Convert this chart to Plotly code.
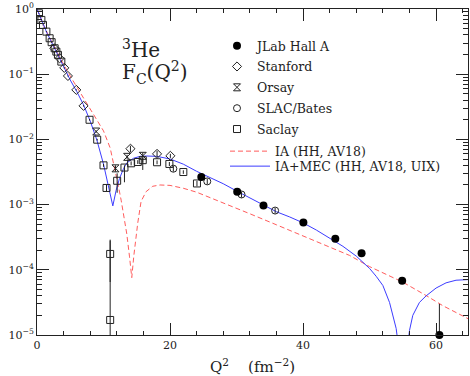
import plotly.graph_objects as go

# ---------------- data ----------------
# theory curves: Q^2 (fm^-2) and F_C
ia_q = [0, 1, 2, 3, 4, 5, 6, 7, 8, 9, 10, 11, 11.65, 12.2, 12.65, 13.1, 13.5, 13.9,
        14.25, 14.55, 14.85, 15.15, 15.65, 16.4, 17.4, 18.5, 20, 22, 24, 28, 32, 36,
        40, 44, 47, 50, 55, 58.6, 61, 64.8]
ia_F = [1.0, 0.562, 0.347, 0.219, 0.141, 0.0933, 0.0631, 0.0427, 0.0282, 0.0200,
        0.0135, 0.00741, 0.00380, 0.00200, 0.00117, 6.31e-4, 3.55e-4, 1.62e-4,
        7.59e-5, 1.62e-4, 3.16e-4, 5.25e-4, 1.12e-3, 1.58e-3, 1.91e-3, 2.0e-3,
        1.97e-3, 1.78e-3, 1.55e-3, 1.07e-3, 7.24e-4, 4.90e-4, 3.31e-4, 2.19e-4,
        1.66e-4, 1.12e-4, 6.46e-5, 3.98e-5, 2.82e-5, 1.78e-5]

mec_q = [0, 0.5, 1, 1.5, 2, 3, 4, 5, 6, 7, 8, 9, 10, 10.6, 11.0, 11.4, 11.9, 12.4,
         13.0, 13.5, 14.5, 15.5, 16.5, 18, 20, 22, 24, 26, 28, 30, 32, 34, 36, 38,
         40, 42, 44, 46, 48, 50, 51, 52, 53, 54, 54.5, 55.0, 55.5, 56.0, 56.5, 57.5,
         58.5, 60, 61.5, 63, 64.8]
mec_F = [1.0, 0.741, 0.550, 0.427, 0.339, 0.209, 0.129, 0.0813, 0.0537, 0.0339,
         0.0191, 0.00977, 0.00417, 0.00229, 0.00148, 0.000955, 0.00166, 0.00251,
         0.00355, 0.00437, 0.00513, 0.00550, 0.00556, 0.00550, 0.00501, 0.00417,
         0.00324, 0.00263, 0.00209, 0.00162, 0.00126, 0.000977, 0.000776, 0.000646,
         0.000525, 0.000407, 0.000309, 0.000229, 0.000162, 0.000105, 7.94e-5,
         5.75e-5, 3.16e-5, 1.26e-5, 5.0e-6, 1.0e-7, 4.0e-6, 1.17e-5, 2.0e-5,
         3.16e-5, 3.98e-5, 5.25e-5, 6.31e-5, 6.92e-5, 7.08e-5]

# experimental data
jlab_q = [24.7, 30.1, 34.05, 40.05, 44.85, 48.8, 54.9, 60.5]
jlab_F = [2.64e-3, 1.58e-3, 9.7e-4, 5.3e-4, 3.0e-4, 1.79e-4, 6.8e-5, 1.0e-5]
jlab_ep = [1e-4, 6e-5, 4e-5, 2e-5, 1.2e-5, 8e-6, 5e-6, 2.0e-5]
jlab_em = [1e-4, 6e-5, 4e-5, 2e-5, 1.2e-5, 8e-6, 5e-6, 0]

stan_q = [2.6, 3.4, 4.1, 4.65, 5.91, 7.0, 14.05, 18.05, 20.05]
stan_F = [0.25, 0.175, 0.125, 0.094, 0.0575, 0.0327, 7.2e-3, 6.0e-3, 5.6e-3]
stan_e = [0.005, 0.004, 0.003, 0.002, 0.0012, 0.0008, 0.0008, 0.0007, 0.0004]

orsay_q = [8.9, 11.8, 13.55, 15.9]
orsay_F = [0.0132, 3.6e-3, 5.4e-3, 5.6e-3]
orsay_ep = [0.0005, 0.0004, 0.0004, 0.0006]
orsay_em = [0.0005, 0.0004, 0.0004, 0.0022]

slac_q = [20.5, 25.6, 30.75, 35.8]
slac_F = [3.55e-3, 2.27e-3, 1.43e-3, 8.1e-4]
slac_e = [3.5e-4, 2.3e-4, 1.5e-4, 8e-5]

saclay_q = [0.3, 0.66, 0.9, 1.41, 1.9, 2.2, 2.65, 2.91, 3.15, 3.66, 7.9, 9.05,
            10.0, 10.45, 11.0, 11.0, 12.05, 13.15, 14.15, 15.15, 15.9, 18.05,
            19.9, 22.0, 24.05]
saclay_F = [0.86, 0.68, 0.57, 0.45, 0.356, 0.31, 0.25, 0.222, 0.198, 0.156,
            0.02, 0.0099, 4.0e-3, 1.8e-3, 1.75e-4, 1.7e-5, 2.32e-3, 3.7e-3,
            4.3e-3, 4.5e-3, 4.8e-3, 4.46e-3, 4.2e-3, 3.16e-3, 2.11e-3]
saclay_ep = [0.01, 0.01, 0.01, 0.008, 0.006, 0.005, 0.004, 0.004, 0.003, 0.003,
             0.0006, 0.0003, 2e-4, 2e-4, 1.15e-4, 2.63e-4, 7e-4, 3e-4,
             3e-4, 3e-4, 4e-4, 3e-4, 3e-4, 2e-4, 2e-4]
saclay_em = [0.01, 0.01, 0.01, 0.008, 0.006, 0.005, 0.004, 0.004, 0.003, 0.003,
             0.0006, 0.0003, 2e-4, 2e-4, 1.1e-4, 1.65e-5, 8e-4, 1.5e-3,
             3e-4, 3e-4, 4e-4, 3e-4, 3e-4, 2e-4, 2e-4]

y_tickvals = [1e-5, 1e-4, 1e-3, 1e-2, 1e-1, 1]
y_ticktext = ["10<sup>−5</sup>", "10<sup>−4</sup>", "10<sup>−3</sup>",
              "10<sup>−2</sup>", "10<sup>−1</sup>", "10<sup>0</sup>"]
x_tickvals = [0, 20, 40, 60]
x_ticktext = ["0", "20", "40", "60"]

# ---------------- figure ----------------
FONT = "DejaVu Serif"
INK = "#222222"

fig = go.Figure()

fig.add_trace(go.Scatter(
    x=ia_q, y=ia_F, mode="lines", name="IA (HH, AV18)", legend="legend2",
    line=dict(color="#ff5c5c", width=1, dash="5px,3px")))
fig.add_trace(go.Scatter(
    x=mec_q, y=mec_F, mode="lines", name="IA+MEC (HH, AV18, UIX)", legend="legend3",
    line=dict(color="#3c3cff", width=1)))

def err(plus, minus=None):
    d = dict(type="data", array=plus, visible=True, width=0, thickness=1, color=INK)
    if minus is not None:
        d["arrayminus"] = minus
        d["symmetric"] = False
    return d

fig.add_trace(go.Scatter(
    x=saclay_q, y=saclay_F, mode="markers", name="Saclay", legend="legend",
    legendgroup="g5", error_y=err(saclay_ep, saclay_em), legendrank=5,
    marker=dict(symbol="square-open", size=7, color=INK, line=dict(width=1))))
fig.add_trace(go.Scatter(
    x=slac_q, y=slac_F, mode="markers", name="SLAC/Bates", legend="legend",
    legendgroup="g4", error_y=err(slac_e), legendrank=4,
    marker=dict(symbol="circle-open", size=7, color=INK, line=dict(width=1))))
fig.add_trace(go.Scatter(
    x=orsay_q, y=orsay_F, mode="markers", name="Orsay", legend="legend",
    legendgroup="g3", error_y=err(orsay_ep, orsay_em), legendrank=3,
    marker=dict(symbol="hourglass-open", size=7, color=INK, line=dict(width=1))))
fig.add_trace(go.Scatter(
    x=stan_q, y=stan_F, mode="markers", name="Stanford", legend="legend",
    legendgroup="g2", error_y=err(stan_e), legendrank=2,
    marker=dict(symbol="diamond-open", size=7, color=INK, line=dict(width=1))))
fig.add_trace(go.Scatter(
    x=jlab_q, y=jlab_F, mode="markers", name="JLab Hall A", legend="legend",
    legendgroup="g1", error_y=err(jlab_ep, jlab_em), legendrank=1, cliponaxis=False,
    marker=dict(symbol="circle", size=8, color="#000000")))

L, R, T, B = 37, 2, 9, 41
W, H = 470, 376
pw, ph = W - L - R, H - T - B

def px_x(px):
    return (px - L) / pw

def px_y(py):
    return 1 - (py - T) / ph

legend_common = dict(bgcolor="rgba(0,0,0,0)", borderwidth=0,
                     font=dict(family=FONT, size=12.5, color=INK),
                     xanchor="left", yanchor="top")

fig.update_layout(
    width=W, height=H,
    margin=dict(l=L, r=R, t=T, b=B, autoexpand=False),
    paper_bgcolor="white", plot_bgcolor="white",
    font=dict(family=FONT, color=INK),
    showlegend=True,
    legend=dict(x=px_x(217), y=px_y(31), tracegroupgap=1.6, **legend_common),
    legend2=dict(x=px_x(225), y=px_y(136.5), itemwidth=40, **legend_common),
    legend3=dict(x=px_x(225), y=px_y(151.5), itemwidth=40, **legend_common),
    xaxis=dict(
        range=[0, 64.8], tickvals=x_tickvals, ticktext=x_ticktext,
        ticks="inside", ticklen=12, tickwidth=1, tickcolor=INK,
        showline=True, linecolor=INK, linewidth=1, mirror="allticks",
        showgrid=False, zeroline=False, automargin=False,
        tickfont=dict(family=FONT, size=11, color=INK),
        minor=dict(dtick=4, ticks="inside", ticklen=4, tickcolor=INK, showgrid=False),
        title=dict(text="Q<sup>2</sup>    (fm<sup>−2</sup>)",
                   font=dict(family=FONT, size=15, color=INK), standoff=10),
    ),
    yaxis=dict(
        type="log", range=[-5, 0], tickvals=y_tickvals, ticktext=y_ticktext,
        ticks="inside", ticklen=12, tickwidth=1, tickcolor=INK,
        showline=True, linecolor=INK, linewidth=1, mirror="allticks",
        showgrid=False, zeroline=False, automargin=False,
        tickfont=dict(family=FONT, size=11, color=INK),
        minor=dict(dtick="D1", ticks="inside", ticklen=5, tickcolor=INK, showgrid=False),
    ),
    annotations=[
        dict(text="<sup>3</sup>He", xref="paper", yref="paper",
             x=px_x(120), y=px_y(49), xanchor="left", yanchor="middle",
             showarrow=False, font=dict(family=FONT, size=20, color=INK)),
        dict(text="F<sub>C</sub>(Q<sup>2</sup>)", xref="paper", yref="paper",
             x=px_x(120), y=px_y(72), xanchor="left", yanchor="middle",
             showarrow=False, font=dict(family=FONT, size=20, color=INK)),
    ],
)

fig.write_html("out.html",
               config={"displayModeBar": False},
               post_script="document.body.style.margin='0px';document.body.style.padding='0px';")
